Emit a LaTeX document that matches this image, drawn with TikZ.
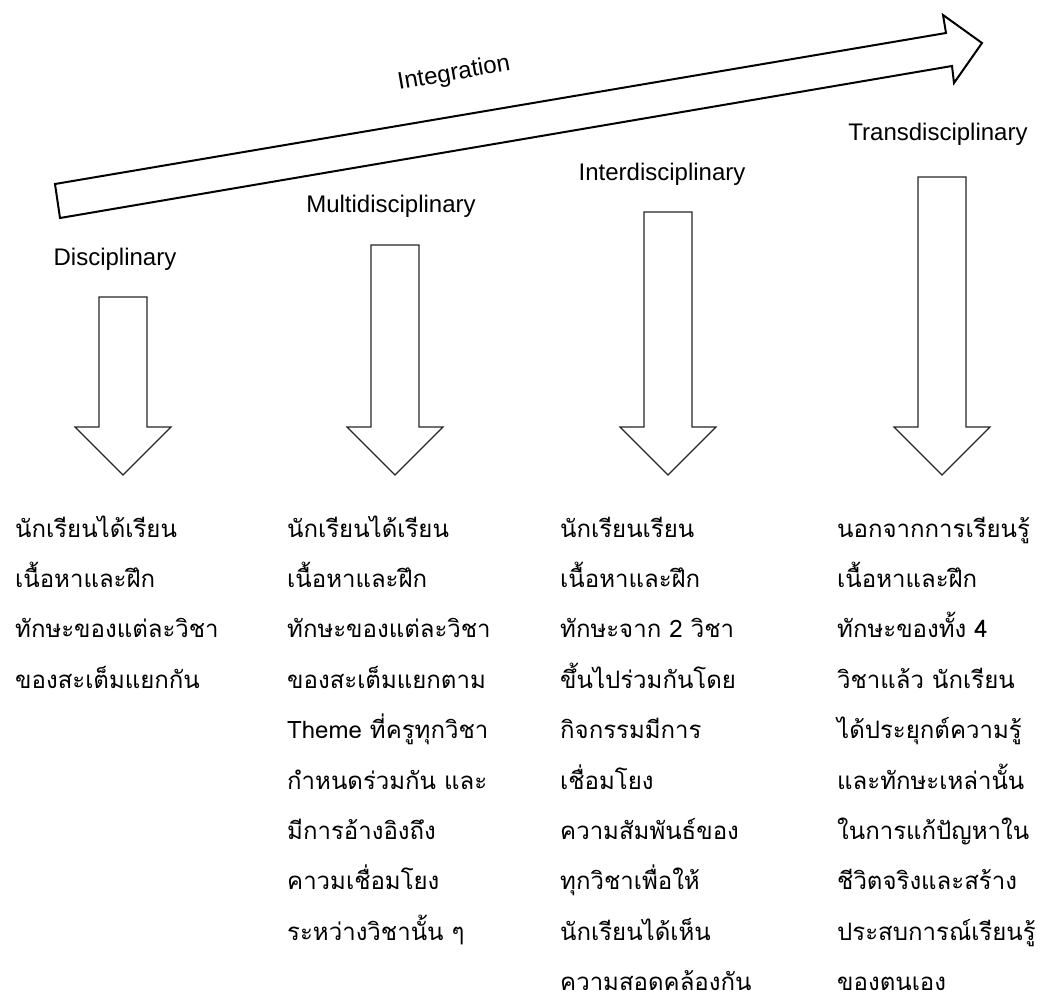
\documentclass[tikz,border=0pt]{standalone}
\usepackage{fontspec}
\setmainfont{Liberation Sans}
\newfontfamily\thaifont[Script=Thai]{Loma}
\newcommand{\dnarrow}[3]{%
  \draw[blockarrow] (#1-24,#2) coordinate (#3top) -- (#1+24,#2) -- (#1+24,427) -- (#1+48,427)
     -- (#1,475) coordinate (#3tip) -- (#1-48,427) -- (#1-24,427) -- cycle;}
\begin{document}
\begin{tikzpicture}[x=1pt,y=-1pt,
  lbl/.style={font=\fontsize{24}{28}\selectfont, anchor=base, inner sep=0pt},
  thai/.style={font=\thaifont\fontsize{24}{28}\selectfont, anchor=base west, inner sep=0pt},
  blockarrow/.style={draw=black!85, line width=1.2pt, fill=white, line join=miter},
  bigarrow/.style={draw=black, line width=2pt, fill=white, line join=miter}]
\useasboundingbox (0,0) rectangle (1040,996);

% big integration arrow
\draw[bigarrow] (55,184) -- (946,33) -- (943,15) -- (982,43) -- (954,83) -- (952,66) -- (60,218) -- cycle;
\node[font=\fontsize{24}{28}\selectfont, inner sep=0pt, rotate=10] (integ) at (454,74) {Integration};

% stage labels
\node[lbl] (dis) at (115,265) {Disciplinary};
\node[lbl] (multi) at (391,212) {Multidisciplinary};
\node[lbl] (inter) at (662,180) {Interdisciplinary};
\node[lbl] (trans) at (938,140) {Transdisciplinary};

% down arrows
\dnarrow{123}{297}{a1}
\dnarrow{395}{245}{a2}
\dnarrow{668}{212}{a3}
\dnarrow{942}{177}{a4}

% text columns
\foreach \t [count=\i from 0] in {นักเรียนได้เรียน, เนื้อหาและฝึก, ทักษะของแต่ละวิชา, ของสะเต็มแยกกัน}
  \node[thai] (c1l\i) at (15,537+50.4*\i) {\t};
\foreach \t [count=\i from 0] in {นักเรียนได้เรียน, เนื้อหาและฝึก, ทักษะของแต่ละวิชา, ของสะเต็มแยกตาม, Theme ที่ครูทุกวิชา, กำหนดร่วมกัน และ, มีการอ้างอิงถึง, คาวมเชื่อมโยง, ระหว่างวิชานั้น ๆ}
  \node[thai] (c2l\i) at (287,537+50.4*\i) {\t};
\foreach \t [count=\i from 0] in {นักเรียนเรียน, เนื้อหาและฝึก, ทักษะจาก 2 วิชา, ขึ้นไปร่วมกันโดย, กิจกรรมมีการ, เชื่อมโยง, ความสัมพันธ์ของ, ทุกวิชาเพื่อให้, นักเรียนได้เห็น, ความสอดคล้องกัน}
  \node[thai] (c3l\i) at (560,537+50.4*\i) {\t};
\foreach \t [count=\i from 0] in {นอกจากการเรียนรู้, เนื้อหาและฝึก, ทักษะของทั้ง 4, วิชาแล้ว นักเรียน, ได้ประยุกต์ความรู้, และทักษะเหล่านั้น, ในการแก้ปัญหาใน, ชีวิตจริงและสร้าง, ประสบการณ์เรียนรู้, ของตนเอง}
  \node[thai] (c4l\i) at (837,537+50.4*\i) {\t};
\end{tikzpicture}
\end{document}
